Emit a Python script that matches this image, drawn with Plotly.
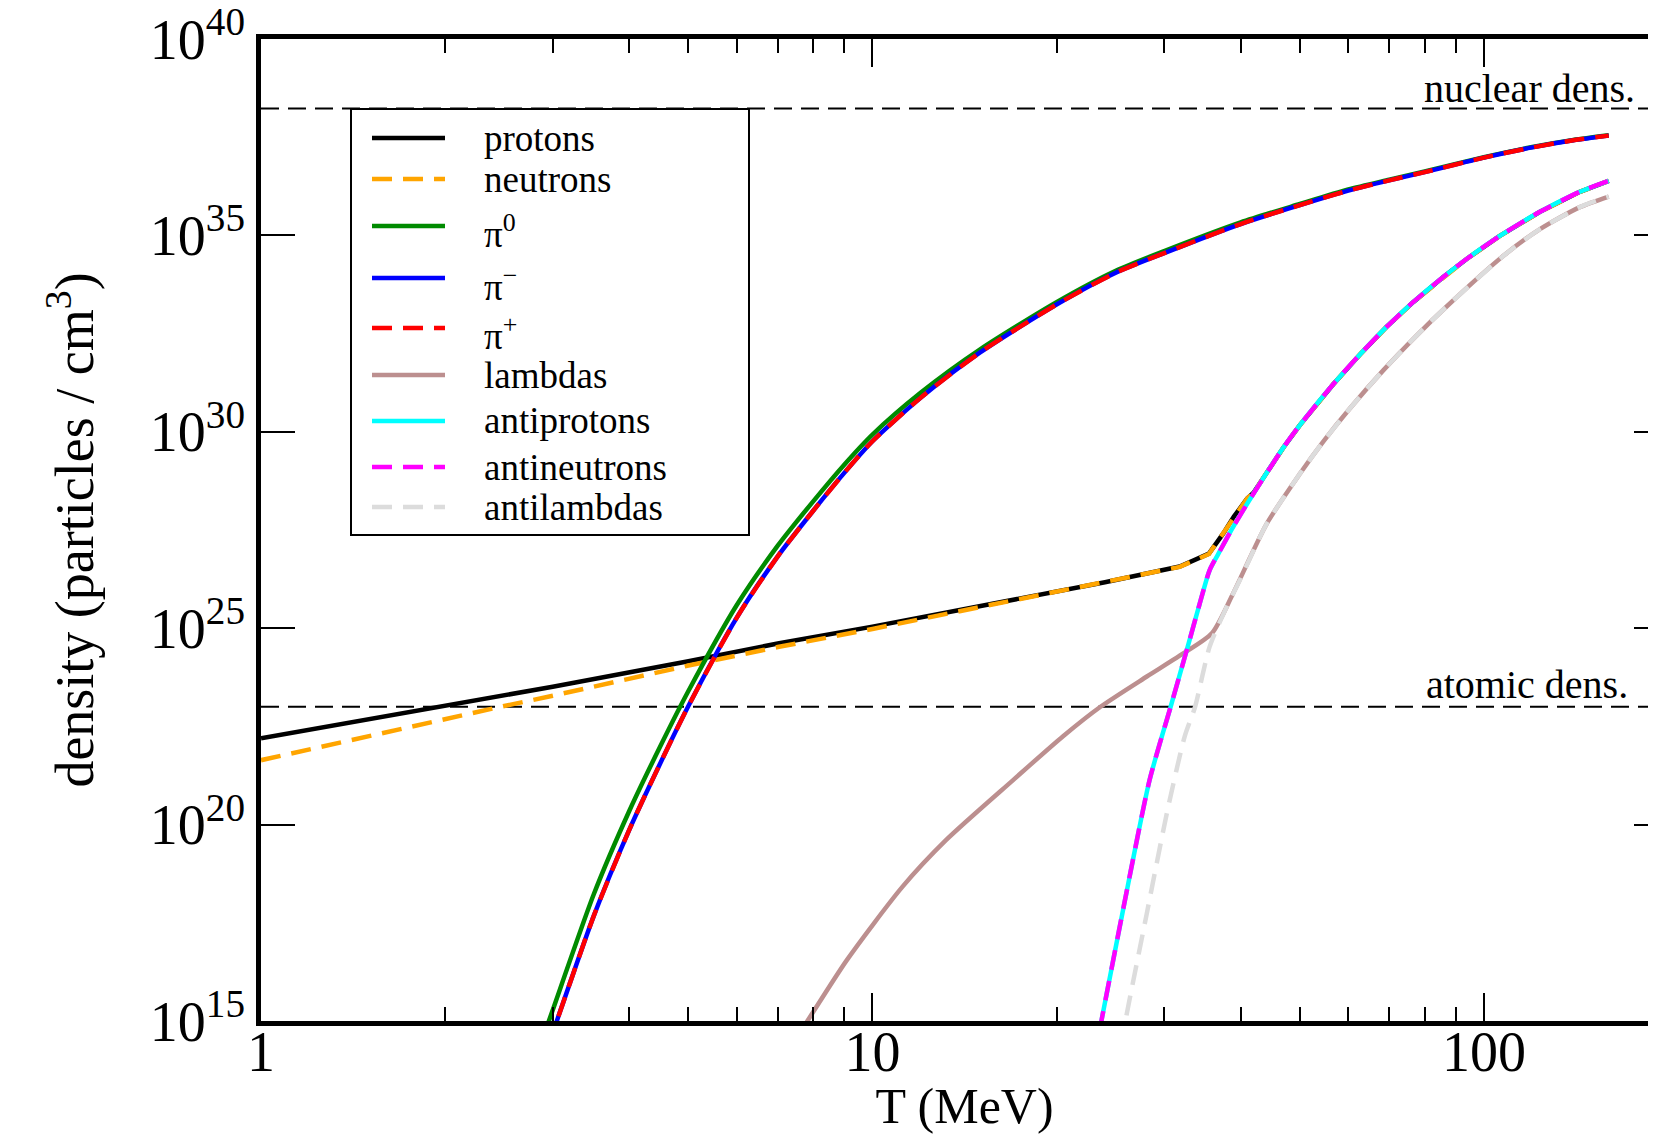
import math
import plotly.graph_objects as go

# ---------------- data ----------------
# temperature T in MeV, densities given as log10(particles / cm^3)
T_pi0 = [2.9, 3.0, 3.5, 4.0, 4.5, 5.0, 6.0, 7.0, 8.0, 9.0, 10, 12, 15, 20, 25, 30,
         40, 50, 60, 70, 80, 100, 120, 140, 160]
log_pi0 = [14.63, 15.28, 18.22, 20.34, 22.00, 23.40, 25.59, 27.10, 28.23, 29.17, 29.93,
           31.00, 32.10, 33.30, 34.10, 34.60, 35.33, 35.80, 36.17, 36.42, 36.63, 36.99,
           37.25, 37.43, 37.55]

T_pic = [2.95, 3.0, 3.5, 4.0, 4.5, 5.0, 6.0, 7.0, 8.0, 9.0, 10, 12, 15, 20, 25, 30,
         40, 50, 60, 70, 80, 100, 120, 140, 160]
log_pim = [14.38, 14.70, 17.67, 19.86, 21.57, 23.02, 25.27, 26.83, 27.99, 28.96, 29.76,
           30.87, 32.02, 33.24, 34.05, 34.55, 35.29, 35.77, 36.14, 36.40, 36.61, 36.98,
           37.24, 37.42, 37.54]
log_pip = [14.38, 14.70, 17.67, 19.86, 21.57, 23.02, 25.27, 26.83, 27.99, 28.96, 29.76,
           30.87, 32.02, 33.24, 34.05, 34.55, 35.29, 35.77, 36.14, 36.40, 36.61, 36.98,
           37.24, 37.42, 37.54]

T_prot = [1, 1.5, 2, 3, 5, 7, 10, 15, 20, 24, 31.8, 35.5, 37.5, 39, 41, 42, 47, 50,
          56.7, 62.7, 69.3, 76.6, 85.8, 93.7, 106, 123.5, 143.5, 160]
log_prot = [22.20, 22.68, 23.04, 23.51, 24.16, 24.61, 25.04, 25.56, 25.93, 26.17, 26.57,
            26.90, 27.42, 27.84, 28.30, 28.45, 29.60, 30.17, 31.21, 31.97, 32.67, 33.30,
            33.94, 34.40, 34.98, 35.60, 36.11, 36.39]

T_neut = [1, 1.5, 2, 2.5, 3, 5, 7, 10, 15, 20, 24, 31.8, 35.5, 37.5, 39, 41, 42, 47, 50,
          56.7, 62.7, 69.3, 76.6, 85.8, 93.7, 106, 123.5, 143.5, 160]
log_neut = [21.64, 22.26, 22.69, 23.02, 23.28, 24.05, 24.52, 24.98, 25.54, 25.92, 26.16,
            26.56, 26.89, 27.42, 27.84, 28.30, 28.45, 29.60, 30.17, 31.21, 31.97, 32.67,
            33.30, 33.94, 34.40, 34.98, 35.60, 36.11, 36.39]

T_lam = [7.6, 7.85, 9.08, 11.2, 13.2, 17.0, 20.5, 23.6, 28.1, 31.8, 35.9, 38.9, 44.1,
         50, 54.6, 60.4, 68.5, 77.6, 86.9, 108, 123.5, 143.5, 160]
log_lam = [14.69, 15.03, 16.55, 18.42, 19.61, 21.14, 22.25, 23.00, 23.77, 24.30, 24.87,
           25.89, 27.65, 28.93, 29.75, 30.60, 31.57, 32.45, 33.19, 34.50, 35.16, 35.72,
           35.99]

T_apr = [23.0, 23.7, 26.4, 28.4, 30.8, 32.9, 34.3, 35.6, 36.8, 38.9, 42.0, 47, 50, 56.7,
         62.7, 69.3, 76.6, 85.8, 93.7, 106, 123.5, 143.5, 160]
log_apr = [13.98, 15.03, 18.76, 21.14, 23.05, 24.62, 25.63, 26.48, 26.90, 27.58, 28.43,
           29.60, 30.17, 31.21, 31.97, 32.67, 33.30, 33.94, 34.40, 34.98, 35.60, 36.11,
           36.39]
log_aneu = [13.98, 15.03, 18.76, 21.14, 23.05, 24.62, 25.63, 26.48, 26.90, 27.58, 28.43,
            29.60, 30.17, 31.21, 31.97, 32.67, 33.30, 33.94, 34.40, 34.98, 35.60, 36.11,
            36.39]

T_alam = [25.5, 26.0, 28.1, 30.3, 32.4, 33.7, 35.6, 37.9, 39.9, 44.1, 50, 54.6, 60.4,
          68.5, 77.6, 86.9, 108, 123.5, 143.5, 160]
log_alam = [14.37, 15.11, 17.74, 20.29, 22.24, 23.00, 24.53, 25.52, 26.23, 27.65, 28.93,
            29.75, 30.60, 31.57, 32.45, 33.19, 34.50, 35.16, 35.72, 35.99]

nuclear_density = 1.7e38
atomic_density = 1.0e23
ref_T = [1, 200]

x_tickvals = [1, 10, 100]
x_ticktext = ["1", "10", "100"]
x_minor = [2, 3, 4, 5, 6, 7, 8, 9, 20, 30, 40, 50, 60, 70, 80, 90]
y_tickvals = [1e15, 1e20, 1e25, 1e30, 1e35, 1e40]
y_ticktext = ["10<sup>15</sup>", "10<sup>20</sup>", "10<sup>25</sup>",
              "10<sup>30</sup>", "10<sup>35</sup>", "10<sup>40</sup>"]

DASH = "20px,11px"
# name, T, log10 density, colour, dash, smooth
series = [
    ("protons", T_prot, log_prot, "rgb(0,0,0)", "solid", False),
    ("neutrons", T_neut, log_neut, "rgb(255,165,0)", DASH, False),
    ("π<sup>0</sup>", T_pi0, log_pi0, "rgb(0,139,0)", "solid", True),
    ("π<sup>−</sup>", T_pic, log_pim, "rgb(0,0,255)", "solid", True),
    ("π<sup>+</sup>", T_pic, log_pip, "rgb(255,0,0)", DASH, True),
    ("lambdas", T_lam, log_lam, "rgb(188,143,143)", "solid", True),
    ("antiprotons", T_apr, log_apr, "rgb(0,255,255)", "solid", True),
    ("antineutrons", T_apr, log_aneu, "rgb(255,0,255)", DASH, True),
    ("antilambdas", T_alam, log_alam, "rgb(220,220,220)", DASH, True),
]

FONT = "Liberation Serif, Times New Roman, serif"

# ---------------- layout geometry (page pixels; the page body adds an 8 px offset) ----
OFF = 8
PL, PT, PB, PR = 261, 39, 1021, 1668           # plot frame on the page (right edge is off-page)
FIG_W, FIG_H = PR - OFF + 4, 1134 - OFF

def px(x):
    return (x - PL) / (PR - PL)

def py(y):
    return (PB - y) / (PB - PT)

LEG_BOX = (351, 109, 749, 535)
LEG_LINE_X = (372, 445)
LEG_TEXT_X = 482
LEG_ROWS = [138, 179, 226, 278, 328, 375, 421, 467, 507]

fig = go.Figure()

for dens in (nuclear_density, atomic_density):
    fig.add_trace(go.Scatter(x=ref_T, y=[dens, dens], mode="lines",
                             line=dict(color="black", width=2, dash="18px,9px"),
                             showlegend=False, hoverinfo="skip"))

for name, T, logs, color, dash, smooth in series:
    line = dict(color=color, width=4.5, dash=dash)
    if smooth:
        line.update(shape="spline", smoothing=0.7)
    fig.add_trace(go.Scatter(x=T, y=[10.0 ** v for v in logs], name=name, mode="lines",
                             line=line, showlegend=False))

# ---------------- legend (box, samples, labels) ----------------
shapes = [dict(type="rect", xref="paper", yref="paper",
               x0=px(LEG_BOX[0]), x1=px(LEG_BOX[2]), y0=py(LEG_BOX[3]), y1=py(LEG_BOX[1]),
               line=dict(color="black", width=2), fillcolor="white", layer="above")]
annotations = []
for (name, T, logs, color, dash, smooth), ry in zip(series, LEG_ROWS):
    shapes.append(dict(type="line", xref="paper", yref="paper",
                       x0=px(LEG_LINE_X[0]), x1=px(LEG_LINE_X[1]), y0=py(ry), y1=py(ry),
                       line=dict(color=color, width=4.5, dash=dash), layer="above"))
    annotations.append(dict(text=name, xref="paper", yref="paper", x=px(LEG_TEXT_X),
                            y=py(ry), xanchor="left", yanchor="middle",
                            yshift=-6 if "sup" in name else 0, showarrow=False,
                            font=dict(family=FONT, size=37, color="black")))

annotations.append(dict(text="nuclear dens.", xref="paper", x=px(1637), xanchor="right",
                        yref="y", y=math.log10(nuclear_density), yanchor="bottom",
                        yshift=-4, showarrow=False,
                        font=dict(family=FONT, size=40, color="black")))
annotations.append(dict(text="atomic dens.", xref="paper", x=px(1630), xanchor="right",
                        yref="y", y=math.log10(atomic_density), yanchor="bottom",
                        yshift=-2, showarrow=False,
                        font=dict(family=FONT, size=40, color="black")))

fig.update_layout(
    template="none",
    width=FIG_W, height=FIG_H,
    margin=dict(l=PL - OFF, r=FIG_W - (PR - OFF), t=PT - OFF, b=FIG_H - (PB - OFF),
                pad=0, autoexpand=False),
    paper_bgcolor="white", plot_bgcolor="white",
    font=dict(family=FONT, color="black", size=40),
    showlegend=False,
    shapes=shapes,
    annotations=annotations,
    xaxis=dict(type="log", range=[0, math.log10(200)], tickmode="array",
               tickvals=x_tickvals, ticktext=x_ticktext, ticks="inside", ticklen=28,
               tickwidth=2, tickcolor="black", showline=True, linewidth=4.5,
               linecolor="black", mirror="ticks", showgrid=False, zeroline=False,
               automargin=False, tickfont=dict(family=FONT, size=56),
               ticklabelstandoff=-22, ticklabeloverflow="allow",
               minor=dict(ticks="inside", ticklen=14, tickwidth=2, tickcolor="black",
                          tickvals=x_minor, showgrid=False),
               title=dict(text="T (MeV)", font=dict(family=FONT, size=50), standoff=0)),
    yaxis=dict(type="log", range=[15, 40], tickmode="array", tickvals=y_tickvals,
               ticktext=y_ticktext, ticks="inside", ticklen=34, tickwidth=2,
               tickcolor="black", showline=True, linewidth=4.5, linecolor="black",
               mirror="ticks", showgrid=False, zeroline=False, automargin=False,
               tickfont=dict(family=FONT, size=56), ticklabelstandoff=0,
               ticklabeloverflow="allow",
               title=dict(text="density (particles / cm<sup>3</sup>)",
                          font=dict(family=FONT, size=54), standoff=40)),
)

fig.write_html("out.html")
